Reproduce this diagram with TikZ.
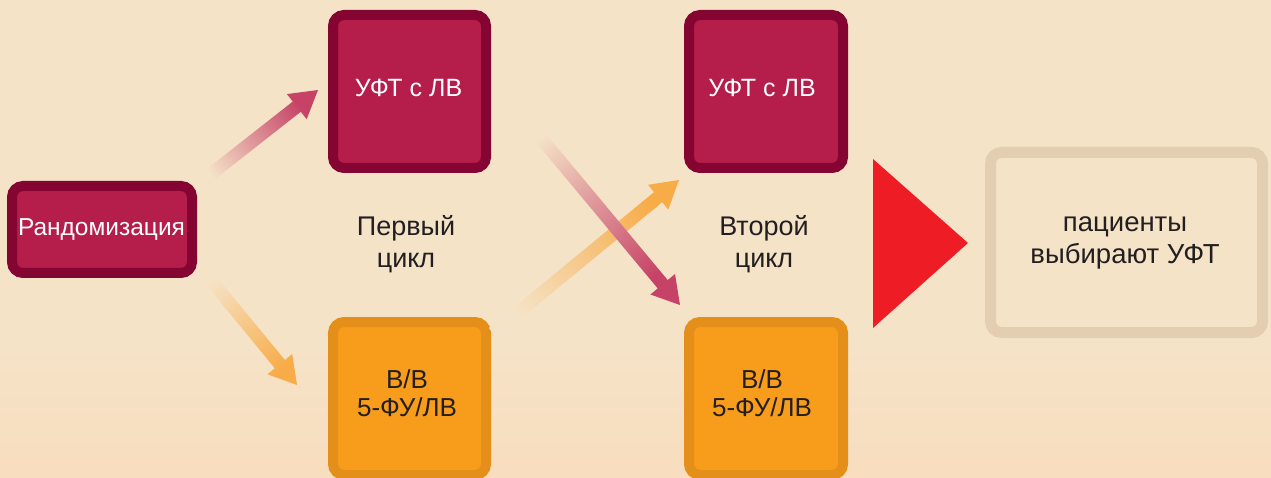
\documentclass[tikz,border=0pt]{standalone}
\usepackage{fontspec}
\setmainfont{Liberation Sans}
\usetikzlibrary{calc}
\definecolor{bg}{HTML}{F5E3C8}
\definecolor{bglow}{HTML}{F8DDBE}
\definecolor{crim}{HTML}{B51D4B}
\definecolor{crimdark}{HTML}{850532}
\definecolor{oran}{HTML}{F89C1C}
\definecolor{orandark}{HTML}{E38F1A}
\definecolor{finalborder}{HTML}{E4CEB2}
\definecolor{redtri}{HTML}{EE1C25}
\definecolor{txt}{HTML}{231F20}
\definecolor{arrcrim}{HTML}{C64266}
\definecolor{arroran}{HTML}{F7AC48}
\tikzset{
  boxbase/.style={line width=10pt, rounded corners=11pt, inner sep=0pt},
  crimbox/.style={boxbase, draw=crimdark, fill=crim},
  oranbox/.style={boxbase, draw=orandark, fill=oran},
  finalbox/.style={boxbase, line width=11pt, draw=finalborder, fill=bg},
  whitetext/.style={align=center, text=white, inner sep=0pt},
  darktext/.style={align=center, text=txt, inner sep=0pt},
}
% tail, tip, colour, shading angle
\newcommand\gradarrow[4]{%
  \coordinate (neck) at ($(#2)!27pt!(#1)$);
  \shade[left color=bg, right color=#3, shading angle=#4]
    ($(#1)!6.5pt!90:(#2)$) -- ($(neck)!6.5pt!-90:(#1)$) -- ($(neck)!16pt!-90:(#1)$)
    -- (#2) -- ($(neck)!16pt!90:(#1)$) -- ($(neck)!6.5pt!90:(#1)$)
    -- ($(#1)!6.5pt!-90:(#2)$) -- cycle;}
\begin{document}
\begin{tikzpicture}[x=1pt,y=1pt]
\useasboundingbox (0,0) rectangle (1271,477);
\clip (0,0) rectangle (1271,477);
\fill[bg] (0,0) rectangle (1271,477);
\shade[top color=bg, bottom color=bglow] (0,0) rectangle (1271,140);

% boxes
\node[crimbox, minimum width=180pt, minimum height=87pt] (rand) at (102,247.5) {};
\node[crimbox, minimum width=153pt, minimum height=153pt] (top1) at (409.5,385.5) {};
\node[oranbox, minimum width=153pt, minimum height=153pt] (bot1) at (409.5,78.5) {};
\node[crimbox, minimum width=154pt, minimum height=153pt] (top2) at (766,385.5) {};
\node[oranbox, minimum width=154pt, minimum height=153pt] (bot2) at (766,78.5) {};
\node[finalbox, minimum width=272pt, minimum height=180pt] (final) at (1126.5,234.5) {};

% box texts
\node[whitetext, font=\fontsize{24.5}{29}\selectfont] (randt) at (101.5,247) {Рандомизация};
\node[whitetext, font=\fontsize{25}{30}\selectfont] (top1t) at (408.5,389) {УФТ с ЛВ};
\node[darktext, font=\fontsize{26}{28}\selectfont] (bot1t) at (407,84) {В/В\\5-ФУ/ЛВ};
\node[whitetext, font=\fontsize{25}{30}\selectfont] (top2t) at (762,389) {УФТ с ЛВ};
\node[darktext, font=\fontsize{26}{28}\selectfont] (bot2t) at (762,84) {В/В\\5-ФУ/ЛВ};
\node[darktext, font=\fontsize{27.5}{32}\selectfont] (finalt) at (1125,234) {пациенты\\выбирают УФТ};

% labels
\node[darktext, font=\fontsize{27}{32}\selectfont] (c1) at (406,233) {Первый\\цикл};
\node[darktext, font=\fontsize{27}{32}\selectfont] (c2) at (764,233) {Второй\\цикл};

% arrows
\coordinate (a1t) at (197,292);
\coordinate (a1h) at (318,387);
\coordinate (a2t) at (200,210);
\coordinate (a2h) at (297,92);
\coordinate (a3t) at (493,144);
\coordinate (a3h) at (679,297);
\coordinate (a4t) at (520,364);
\coordinate (a4h) at (680,172);
\gradarrow{a1t}{a1h}{arrcrim}{128.1}
\gradarrow{a2t}{a2h}{arroran}{39.4}
\gradarrow{a3t}{a3h}{arroran}{129.4}
\gradarrow{a4t}{a4h}{arrcrim}{39.8}

% red triangle
\coordinate (tr1) at (873,318);
\coordinate (tr2) at (968,234);
\coordinate (tr3) at (873,149);
\fill[redtri] (tr1) -- (tr2) -- (tr3) -- cycle;
\end{tikzpicture}
\end{document}
